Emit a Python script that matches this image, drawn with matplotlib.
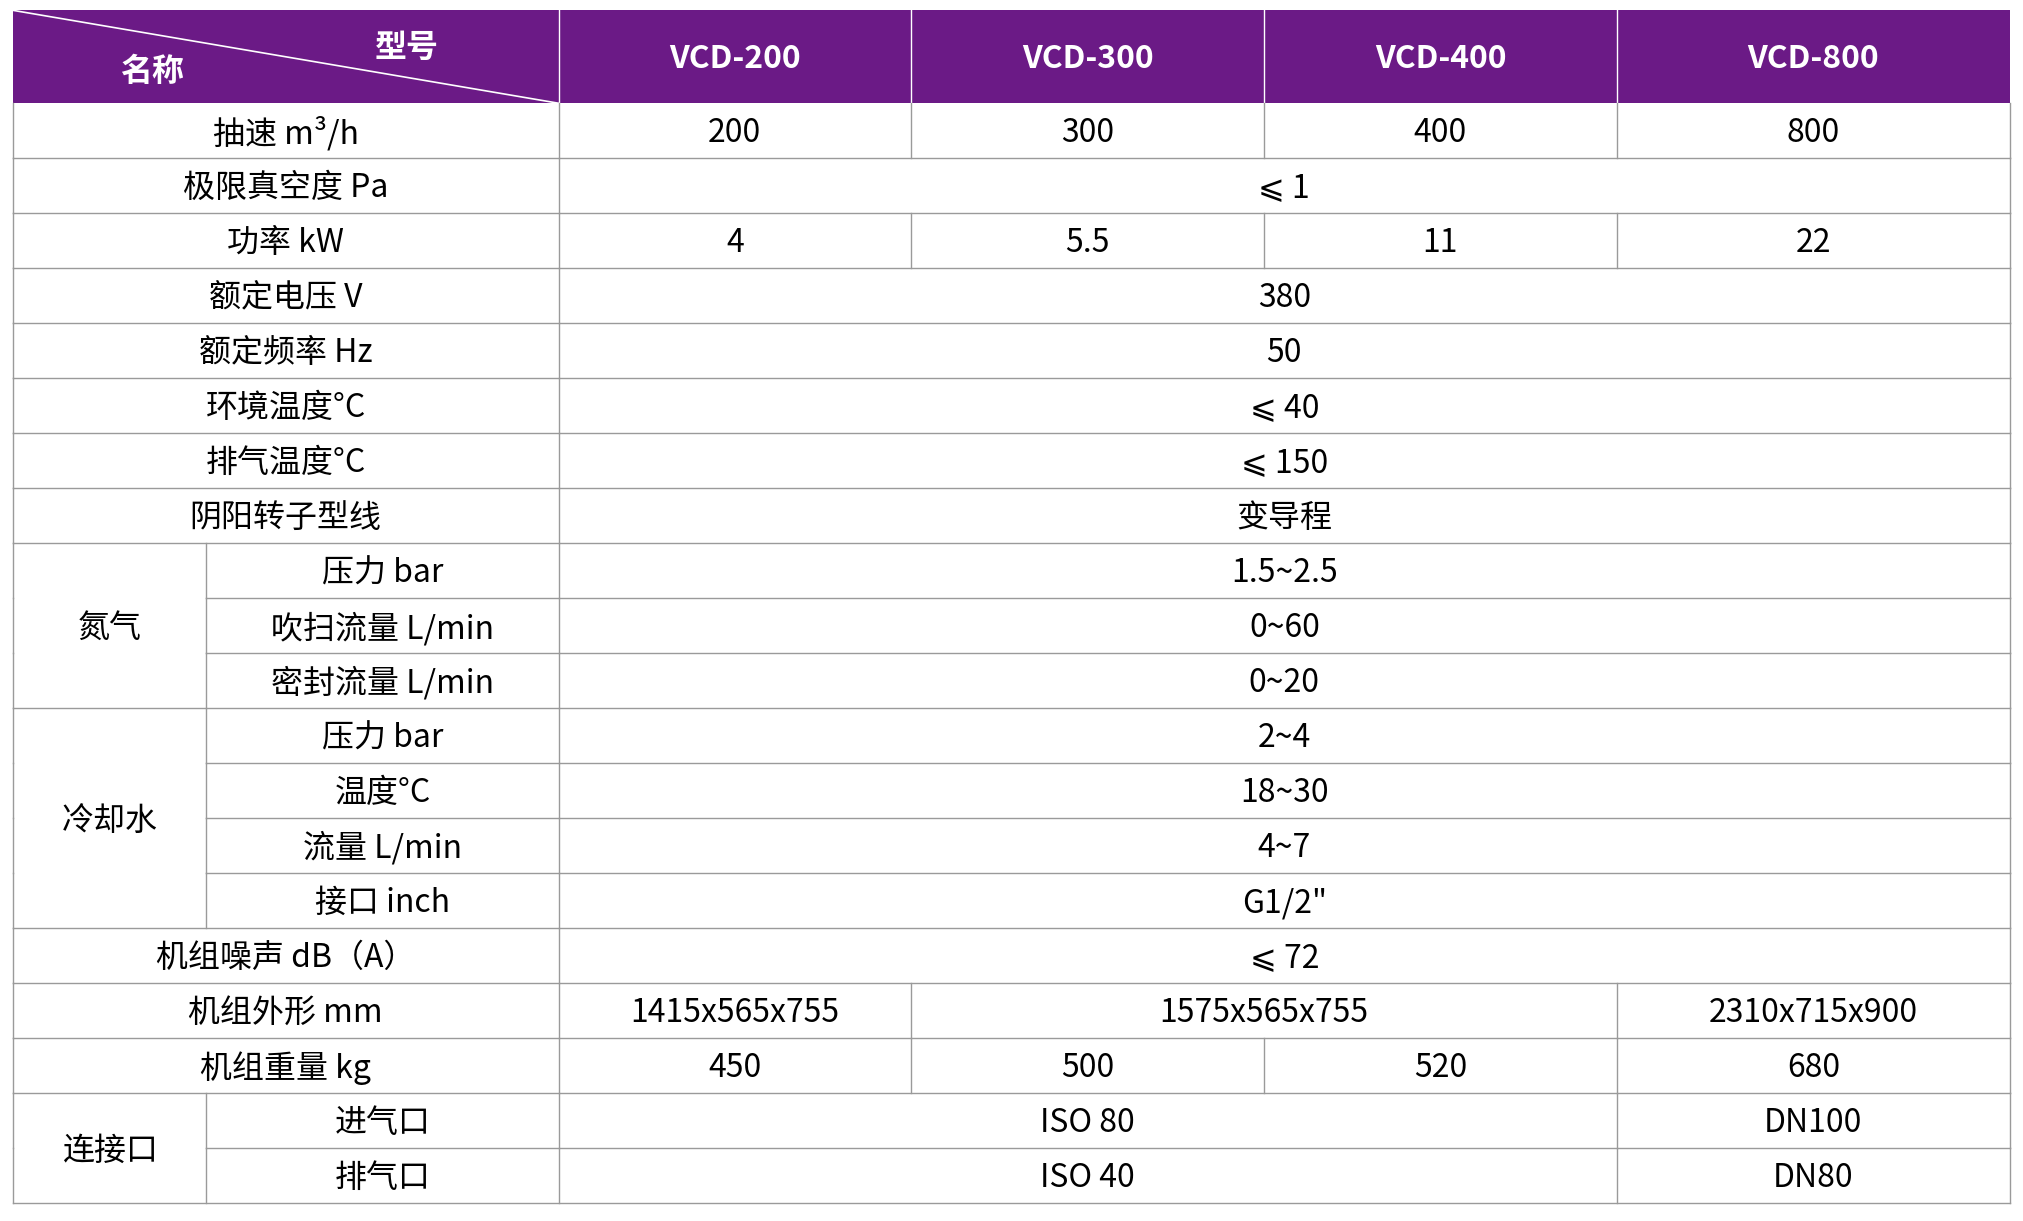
import matplotlib.pyplot as plt

plt.rcParams['font.family'] = ['Noto Sans CJK SC', 'DejaVu Sans']

models = ['VCD-200', 'VCD-300', 'VCD-400', 'VCD-800']

# (group, label, [(text, span), ...])
rows = [
    (None, '抽速 m³/h', [('200', 1), ('300', 1), ('400', 1), ('800', 1)]),
    (None, '极限真空度 Pa', [('⩽ 1', 4)]),
    (None, '功率 kW', [('4', 1), ('5.5', 1), ('11', 1), ('22', 1)]),
    (None, '额定电压 V', [('380', 4)]),
    (None, '额定频率 Hz', [('50', 4)]),
    (None, '环境温度°C', [('⩽ 40', 4)]),
    (None, '排气温度°C', [('⩽ 150', 4)]),
    (None, '阴阳转子型线', [('变导程', 4)]),
    ('氮气', '压力 bar', [('1.5~2.5', 4)]),
    ('氮气', '吹扫流量 L/min', [('0~60', 4)]),
    ('氮气', '密封流量 L/min', [('0~20', 4)]),
    ('冷却水', '压力 bar', [('2~4', 4)]),
    ('冷却水', '温度°C', [('18~30', 4)]),
    ('冷却水', '流量 L/min', [('4~7', 4)]),
    ('冷却水', '接口 inch', [('G1/2"', 4)]),
    (None, '机组噪声 dB（A）', [('⩽ 72', 4)]),
    (None, '机组外形 mm', [('1415x565x755', 1), ('1575x565x755', 2), ('2310x715x900', 1)]),
    (None, '机组重量 kg', [('450', 1), ('500', 1), ('520', 1), ('680', 1)]),
    ('连接口', '进气口', [('ISO 80', 3), ('DN100', 1)]),
    ('连接口', '排气口', [('ISO 40', 3), ('DN80', 1)]),
]

W, H = 1568, 946
xs = [10, 160, 433, 706, 980, 1253, 1558]
top, head_bot, bot = 8, 80, 932
rh = (bot - head_bot) / len(rows)
purple = '#6b1a86'
lc = '#9a9a9a'
fs = 23
dy = 2

fig = plt.figure(figsize=(20.23, 12.21), dpi=100)
ax = fig.add_axes([0, 0, 1, 1])
ax.set_xlim(0, W)
ax.set_ylim(H, 0)
ax.axis('off')

# header
ax.add_patch(plt.Rectangle((xs[0], top), xs[-1] - xs[0], head_bot - top, color=purple, lw=0))
ax.plot([xs[0], xs[2]], [top, head_bot], color='white', lw=1.2)
for x in xs[2:-1]:
    ax.plot([x, x], [top, head_bot], color='white', lw=1)
ax.text(315, 37, '型号', color='white', fontsize=fs, fontweight='bold', ha='center', va='center')
ax.text(118, 56, '名称', color='white', fontsize=fs, fontweight='bold', ha='center', va='center')
for i, m in enumerate(models):
    ax.text((xs[2 + i] + xs[3 + i]) / 2, 46, m, color='white', fontsize=fs,
            fontweight='bold', ha='center', va='center')

# body
for i, (grp, label, vals) in enumerate(rows):
    y0 = head_bot + i * rh
    y1 = y0 + rh
    yc = (y0 + y1) / 2 + dy
    last_in_group = grp is None or i == len(rows) - 1 or rows[i + 1][0] != grp
    hx0 = xs[0] if last_in_group else xs[1]
    ax.plot([hx0, xs[-1]], [y1, y1], color=lc, lw=1)
    if grp is None:
        ax.text((xs[0] + xs[2]) / 2, yc, label, fontsize=fs, ha='center', va='center')
    else:
        ax.text((xs[1] + xs[2]) / 2, yc, label, fontsize=fs, ha='center', va='center')
        ax.plot([xs[1], xs[1]], [y0, y1], color=lc, lw=1)
    c = 2
    for text, span in vals:
        ax.text((xs[c] + xs[c + span]) / 2, yc, text, fontsize=fs, ha='center', va='center')
        ax.plot([xs[c], xs[c]], [y0, y1], color=lc, lw=1)
        c += span
    ax.plot([xs[0], xs[0]], [y0, y1], color=lc, lw=1)
    ax.plot([xs[-1], xs[-1]], [y0, y1], color=lc, lw=1)

# group labels
groups = {}
for i, r in enumerate(rows):
    if r[0]:
        groups.setdefault(r[0], []).append(i)
for g, idx in groups.items():
    yc = head_bot + (idx[0] + idx[-1] + 1) / 2 * rh + dy
    ax.text((xs[0] + xs[1]) / 2, yc, g, fontsize=fs, ha='center', va='center')

fig.savefig('out.png', dpi=100, facecolor='white')
